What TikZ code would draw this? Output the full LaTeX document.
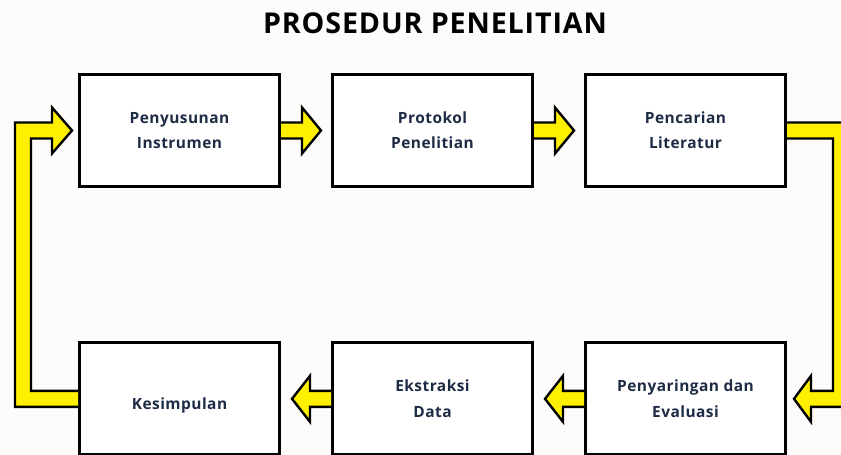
\documentclass[tikz,border=0pt]{standalone}
\usepackage{fontspec}
\setmainfont{Open Sans}[LetterSpace=3]
\usetikzlibrary{positioning, calc}
\definecolor{bgpaper}{RGB}{253, 252, 251}
\definecolor{textnavy}{RGB}{30, 43, 69}
\definecolor{arrowyellow}{RGB}{255, 240, 0}

\begin{document}
\begin{tikzpicture}[
        x=0.75pt, y=-0.75pt,
        node distance=115pt and 37.5pt,
        % Styles
        stepbox/.style={
            rectangle,
            draw=black,
            line width=2.25pt,
            minimum width=150pt,
            minimum height=84pt,
            align=center,
            fill=white,
            text=textnavy,
            font=\bfseries\fontsize{11.6}{19}\selectfont
        },
        flowarrow/.style={fill=arrowyellow, draw=black, line width=1.8pt, line join=miter}
    ]

    % ==============================
    % 0. CANVAS
    % ==============================
    \clip (0,0) rectangle (841,454);
    \fill[bgpaper] (0,0) rectangle (841,454);

    \node[font=\bfseries\fontsize{21.5}{24}\selectfont] (title) at (435,23) {PROSEDUR PENELITIAN};

    % ==============================
    % 1. STEPS
    % ==============================
    \node[stepbox] (instrumen) at (179.5,130.5) {Penyusunan\\Instrumen};
    \node[stepbox, right=of instrumen] (protokol) {Protokol\\Penelitian};
    \node[stepbox, right=of protokol] (literatur) {Pencarian\\Literatur};

    \node[stepbox, below=of instrumen, text height=19pt] (kesimpulan) {Kesimpulan};
    \node[stepbox, below=of protokol] (ekstraksi) {Ekstraksi\\Data};
    \node[stepbox, below=of literatur] (penyaringan) {Penyaringan dan\\Evaluasi};

    % ==============================
    % 2. STRAIGHT ARROWS
    % ==============================
    \foreach \from/\to in {instrumen/protokol, protokol/literatur}
        \filldraw[flowarrow] ($(\from.east)+(0,-8)$) -- ($(\to.west)+(-29,-8)$) -- ++(0,-15)
            -- ($(\to.west)+(-10,0)$) -- ($(\to.west)+(-29,23)$) -- ++(0,-15) -- ($(\from.east)+(0,8)$);

    \foreach \from/\to in {penyaringan/ekstraksi, ekstraksi/kesimpulan}
        \filldraw[flowarrow] ($(\from.west)+(0,-8)$) -- ($(\to.east)+(29,-8)$) -- ++(0,-15)
            -- ($(\to.east)+(11,0)$) -- ($(\to.east)+(29,23)$) -- ++(0,-15) -- ($(\from.west)+(0,8)$);

    % ==============================
    % 3. LOOP ARROWS
    % ==============================
    \filldraw[flowarrow] ($(literatur.east)+(0,-8)$) -- ($(literatur.east)+(62,-8)$)
        -- ($(penyaringan.east)+(62,8)$) -- ($(penyaringan.east)+(24,8)$) -- ++(0,15)
        -- ($(penyaringan.east)+(7,0)$) -- ($(penyaringan.east)+(24,-23)$) -- ++(0,15)
        -- ($(penyaringan.east)+(46,-8)$) -- ($(literatur.east)+(46,8)$) -- ($(literatur.east)+(0,8)$);

    \filldraw[flowarrow] ($(kesimpulan.west)+(0,8)$) -- ($(kesimpulan.west)+(-63,8)$)
        -- ($(instrumen.west)+(-63,-8)$) -- ($(instrumen.west)+(-26,-8)$) -- ++(0,-15)
        -- ($(instrumen.west)+(-6,0)$) -- ($(instrumen.west)+(-26,23)$) -- ++(0,-15)
        -- ($(instrumen.west)+(-47,8)$) -- ($(kesimpulan.west)+(-47,-8)$) -- ($(kesimpulan.west)+(0,-8)$);

\end{tikzpicture}
\end{document}
